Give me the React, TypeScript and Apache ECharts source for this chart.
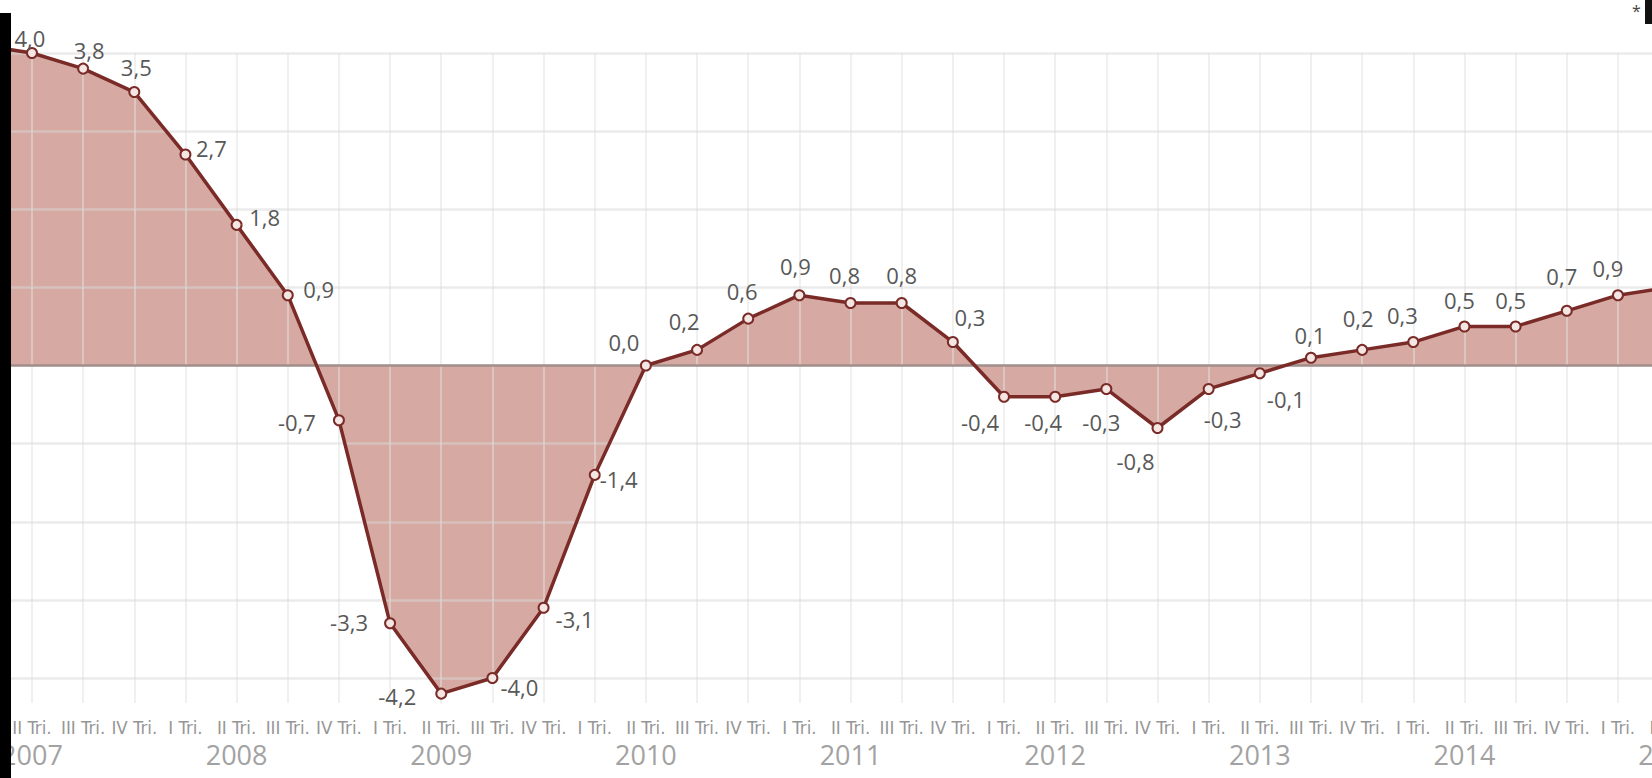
import React, { useEffect, useRef } from 'react';
import * as echarts from 'echarts';

// Quarters (Spanish "Tri." = trimestre); first and last points lie just outside the visible crop
const periods = [
  '2007 I', '2007 II', '2007 III', '2007 IV',
  '2008 I', '2008 II', '2008 III', '2008 IV',
  '2009 I', '2009 II', '2009 III', '2009 IV',
  '2010 I', '2010 II', '2010 III', '2010 IV',
  '2011 I', '2011 II', '2011 III', '2011 IV',
  '2012 I', '2012 II', '2012 III', '2012 IV',
  '2013 I', '2013 II', '2013 III', '2013 IV',
  '2014 I', '2014 II', '2014 III', '2014 IV',
  '2015 I', '2015 II',
];

const growth = [
  4.1, 4.0, 3.8, 3.5,
  2.7, 1.8, 0.9, -0.7,
  -3.3, -4.2, -4.0, -3.1,
  -1.4, 0.0, 0.2, 0.6,
  0.9, 0.8, 0.8, 0.3,
  -0.4, -0.4, -0.3, -0.8,
  -0.3, -0.1, 0.1, 0.2,
  0.3, 0.5, 0.5, 0.7,
  0.9, 1.0,
];

// which points carry a value label (the two outside the crop do not)
const labelled = [
  false, true, true, true,
  true, true, true, true,
  true, true, true, true,
  true, true, true, true,
  true, true, true, true,
  true, true, true, true,
  true, true, true, true,
  true, true, true, true,
  true, false,
];

// horizontal grid values
const gridValues = [-4, -3, -2, -1, 0, 1, 2, 3, 4];

// label placement (centre offset from the point, px) – style only
const labelOffsets: [number, number][] = [
  [0, 0], [-2, -15], [6, -19], [2, -25],
  [26, -7], [28, -8], [31, -6], [-42, 2],
  [-41, -1], [-44, 2], [27, 9], [31, 11],
  [24, 4], [-22, -24], [-13, -29], [-6, -28],
  [-4, -29], [-6, -28], [0, -28], [17, -25],
  [-24, 25], [-12, 25], [-5, 33], [-22, 33],
  [14, 30], [26, 26], [-1, -23], [-4, -32],
  [-11, -27], [-5, -26], [-5, -26], [-5, -35],
  [-10, -27], [0, 0],
];

const LINE = '#7a2b28';
const FILL = '#d6aaa3';

export default function App() {
  const ref = useRef<HTMLDivElement>(null);

  useEffect(() => {
    if (!ref.current) return;
    const chart = echarts.init(ref.current, undefined, { renderer: 'svg' });

    const fmt = (v: number) => v.toFixed(1).replace('.', ',');

    const markData: any[] = [];
    periods.forEach((p) => {
      markData.push({
        xAxis: p,
        lineStyle: { color: 'rgba(225,225,225,0.5)', width: 2, type: 'solid' },
      });
    });
    gridValues.forEach((v) => {
      markData.push({
        yAxis: v,
        lineStyle:
          v === 0
            ? { color: '#a08e8b', width: 2.5, type: 'solid' }
            : { color: 'rgba(215,215,215,0.5)', width: 2.5, type: 'solid' },
      });
    });

    chart.setOption({
      animation: false,
      backgroundColor: '#ffffff',
      grid: {
        left: -19.2,
        right: -17.1,
        top: 53,
        bottom: 75,
        outerBoundsMode: 'none',
        containLabel: false,
      },
      xAxis: [
        {
          type: 'category',
          data: periods,
          boundaryGap: false,
          position: 'bottom',
          axisLine: { show: false },
          axisTick: { show: false },
          splitLine: { show: false },
          axisLabel: {
            interval: 0,
            margin: 15,
            color: '#969696',
            fontSize: 18.5,
            fontFamily: '"Liberation Sans Narrow", "DejaVu Sans Condensed", sans-serif',
            formatter: (p: string) => p.split(' ')[1] + ' Tri.',
          },
        },
        {
          type: 'category',
          data: periods,
          boundaryGap: false,
          position: 'bottom',
          axisLine: { show: false },
          axisTick: { show: false },
          splitLine: { show: false },
          axisLabel: {
            interval: 0,
            margin: 38,
            color: '#a2a2a2',
            fontSize: 27,
            fontFamily: '"Open Sans", sans-serif',
            formatter: (p: string) => (p.split(' ')[1] === 'II' ? p.split(' ')[0] : ''),
          },
        },
      ],
      yAxis: {
        type: 'value',
        min: -4.32,
        max: 4,
        show: false,
        splitLine: { show: false },
      },
      series: [
        {
          type: 'line',
          data: growth,
          xAxisIndex: 0,
          symbol: 'none',
          lineStyle: { width: 0 },
          areaStyle: { color: FILL, opacity: 1 },
          silent: true,
          clip: false,
          z: 1,
          markLine: {
            silent: true,
            symbol: ['none', 'none'],
            label: { show: false },
            z: 2,
            animation: false,
            data: markData,
          },
        },
        {
          type: 'line',
          xAxisIndex: 0,
          z: 3,
          clip: false,
          silent: true,
          symbol: 'circle',
          symbolSize: 10,
          lineStyle: { color: LINE, width: 3.5 },
          itemStyle: { color: '#f4e6e3', borderColor: LINE, borderWidth: 2 },
          data: growth.map((v, i) => ({
            value: v,
            label: {
              show: labelled[i],
              position: 'inside',
              offset: labelOffsets[i],
              formatter: () => fmt(v),
              color: '#585858',
              fontSize: 22,
              fontFamily: '"Open Sans", sans-serif',
              align: 'center',
              verticalAlign: 'middle',
            },
          })),
        },
      ],
      graphic: [
        { type: 'rect', z: 100, shape: { x: 0, y: 13, width: 11, height: 765 }, style: { fill: '#000' } },
        { type: 'rect', z: 100, shape: { x: 1645, y: 0, width: 7, height: 24 }, style: { fill: '#111' } },
        {
          type: 'text',
          z: 100,
          x: 1632,
          y: 3,
          style: { text: '*', fill: '#444', fontSize: 16, fontFamily: '"Open Sans", sans-serif' },
        },
      ],
    });

    return () => chart.dispose();
  }, []);

  return (
    <div
      ref={ref}
      style={{ position: 'fixed', left: 0, top: 0, width: 1652, height: 778, background: '#fff' }}
    />
  );
}
